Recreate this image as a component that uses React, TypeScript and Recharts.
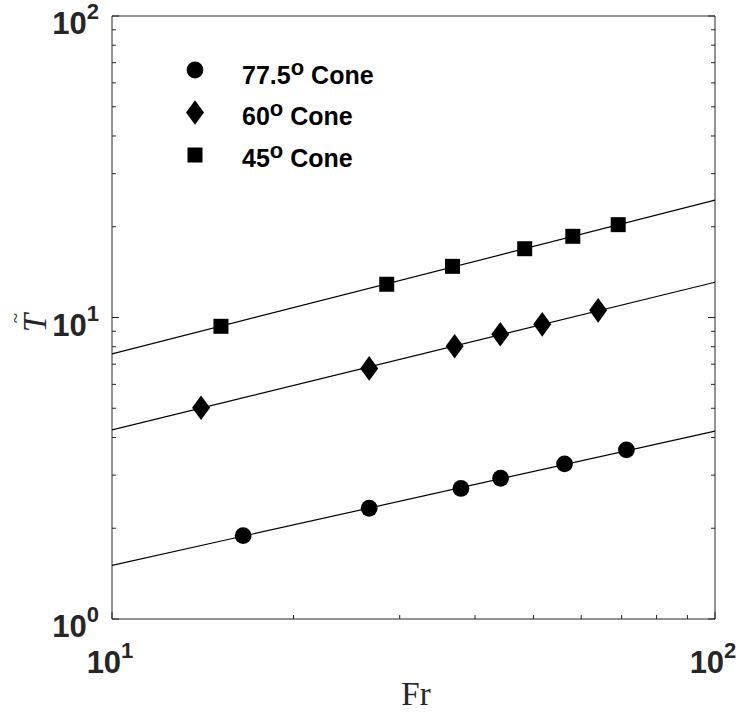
import React from "react";
import { ScatterChart, Scatter, XAxis, YAxis, Legend, Label } from "recharts";

const INK = "#262626";
const SANS = "'Liberation Sans', Arial, Helvetica, sans-serif";
const SERIF = "'Liberation Serif', 'Times New Roman', serif";

// measured points (Fr, T~)
const cone775 = [
    { x: 16.5, y: 1.89 },
    { x: 26.7, y: 2.33 },
    { x: 37.9, y: 2.71 },
    { x: 44.1, y: 2.93 },
    { x: 56.3, y: 3.27 },
    { x: 71.3, y: 3.64 },
];
const cone60 = [
    { x: 14.05, y: 5.02 },
    { x: 26.7, y: 6.78 },
    { x: 37.0, y: 8.03 },
    { x: 44.05, y: 8.8 },
    { x: 51.7, y: 9.49 },
    { x: 64.0, y: 10.56 },
];
const cone45 = [
    { x: 15.16, y: 9.35 },
    { x: 28.55, y: 12.89 },
    { x: 36.7, y: 14.78 },
    { x: 48.35, y: 16.91 },
    { x: 58.1, y: 18.59 },
    { x: 69.1, y: 20.32 },
];

// fit lines, end points read at Fr = 10 and Fr = 100
const fit775 = [
    { x: 10, y: 1.507 },
    { x: 100, y: 4.2 },
];
const fit60 = [
    { x: 10, y: 4.24 },
    { x: 100, y: 13.09 },
];
const fit45 = [
    { x: 10, y: 7.57 },
    { x: 100, y: 24.5 },
];

const xTicks = [10, 20, 30, 40, 50, 60, 70, 80, 90, 100];
const yTicks = [1, 2, 3, 4, 5, 6, 7, 8, 9, 10, 20, 30, 40, 50, 60, 70, 80, 90, 100];
const xLabels: Record<number, string> = { 10: "1", 100: "2" };
const yLabels: Record<number, string> = { 1: "0", 10: "1", 100: "2" };

const legendItems = [
    { name: "77.5", marker: "circle" },
    { name: "60", marker: "diamond" },
    { name: "45", marker: "square" },
];

const isMajor = (v: number) => Math.abs(Math.log10(v) - Math.round(Math.log10(v))) < 1e-9;

const Marker = ({ kind, cx, cy }: { kind: string; cx: number; cy: number }) => {
    if (kind === "circle") return <circle cx={cx} cy={cy} r={8.4} fill="#000" />;
    if (kind === "diamond")
        return <polygon points={`${cx},${cy - 12.3} ${cx + 9},${cy} ${cx},${cy + 12.3} ${cx - 9},${cy}`} fill="#000" />;
    return <rect x={cx - 7.5} y={cy - 7.5} width={15} height={15} fill="#000" />;
};

const shapeOf = (kind: string) => (p: any) => <Marker kind={kind} cx={p.cx} cy={p.cy} />;
const noShape = () => <g />;

const PowerLabel = ({ x, y, exp, anchor }: { x: number; y: number; exp: string; anchor: "end" | "middle" }) => (
    <text x={x} y={y} textAnchor={anchor} fill={INK} fontFamily={SANS} fontWeight="bold">
        <tspan fontSize={31}>10</tspan>
        <tspan fontSize={22} dy={-15}>
            {exp}
        </tspan>
    </text>
);

const tickLen = (v: number) => (isMajor(v) ? 7 : 4);

const BottomTick = (p: any) => {
    const v = p.payload.value;
    return (
        <g>
            <line x1={p.x} y1={p.y} x2={p.x} y2={p.y - tickLen(v)} stroke={INK} />
            {xLabels[v] && <PowerLabel x={p.x - 2} y={p.y + 54} exp={xLabels[v]} anchor="middle" />}
        </g>
    );
};
const TopTick = (p: any) => <line x1={p.x} y1={p.y} x2={p.x} y2={p.y + tickLen(p.payload.value)} stroke={INK} />;
const LeftTick = (p: any) => {
    const v = p.payload.value;
    return (
        <g>
            <line x1={p.x} y1={p.y} x2={p.x + tickLen(v)} y2={p.y} stroke={INK} />
            {yLabels[v] && <PowerLabel x={p.x - 13} y={p.y + 18} exp={yLabels[v]} anchor="end" />}
        </g>
    );
};
const RightTick = (p: any) => <line x1={p.x} y1={p.y} x2={p.x - tickLen(p.payload.value)} y2={p.y} stroke={INK} />;

const LegendBox = () => (
    <svg width={230} height={140} style={{ overflow: "visible" }}>
        {legendItems.map((it, i) => (
            <g key={it.name}>
                <Marker kind={it.marker} cx={25} cy={25 + i * 42.5} />
                <text x={72} y={38.5 + i * 41.7} fontFamily={SANS} fontWeight="bold" fill="#000">
                    <tspan fontSize={25}>{it.name}</tspan>
                    <tspan fontSize={22} dy={-9}>
                        o
                    </tspan>
                    <tspan fontSize={25} dy={9}>
                        {" Cone"}
                    </tspan>
                </text>
            </g>
        ))}
    </svg>
);

const axisLine = { stroke: INK, strokeWidth: 1 };

export default function App() {
    return (
        <div style={{ position: "absolute", left: 0, top: 0, width: 739, height: 715, background: "#fff" }}>
            <ScatterChart width={739} height={715} margin={{ top: 15, right: 23, bottom: 95, left: 111 }}>
                <XAxis
                    xAxisId="b"
                    dataKey="x"
                    type="number"
                    scale="log"
                    domain={[10, 100]}
                    allowDataOverflow
                    ticks={xTicks}
                    interval={0}
                    height={1}
                    tickSize={0}
                    tickMargin={0}
                    tickLine={false}
                    axisLine={axisLine}
                    tick={BottomTick}
                >
                    <Label
                        content={() => (
                            <text x={416} y={705} textAnchor="middle" fontFamily={SERIF} fontSize={33} fill={INK}>
                                Fr
                            </text>
                        )}
                    />
                </XAxis>
                <XAxis
                    xAxisId="t"
                    orientation="top"
                    type="number"
                    scale="log"
                    domain={[10, 100]}
                    allowDataOverflow
                    ticks={xTicks}
                    interval={0}
                    height={1}
                    tickSize={0}
                    tickMargin={0}
                    tickLine={false}
                    axisLine={axisLine}
                    tick={TopTick}
                />
                <YAxis
                    yAxisId="l"
                    dataKey="y"
                    type="number"
                    scale="log"
                    domain={[1, 100]}
                    allowDataOverflow
                    ticks={yTicks}
                    interval={0}
                    width={1}
                    tickSize={0}
                    tickMargin={0}
                    tickLine={false}
                    axisLine={axisLine}
                    tick={LeftTick}
                >
                    <Label
                        content={() => (
                            <g transform="translate(46, 323) rotate(-90)">
                                <text x={0} y={0} textAnchor="middle" fontFamily={SERIF} fontStyle="italic" fontSize={33} fill={INK}>
                                    T
                                </text>
                                <text x={5} y={-24} textAnchor="middle" fontFamily={SERIF} fontSize={19} fill={INK}>
                                    ~
                                </text>
                            </g>
                        )}
                    />
                </YAxis>
                <YAxis
                    yAxisId="r"
                    orientation="right"
                    type="number"
                    scale="log"
                    domain={[1, 100]}
                    allowDataOverflow
                    ticks={yTicks}
                    interval={0}
                    width={1}
                    tickSize={0}
                    tickMargin={0}
                    tickLine={false}
                    axisLine={axisLine}
                    tick={RightTick}
                />
                <Legend
                    layout="vertical"
                    align="center"
                    verticalAlign="middle"
                    wrapperStyle={{ left: 170, top: 45, width: 230, height: 140 }}
                    content={LegendBox}
                />
                <Scatter xAxisId="b" yAxisId="l" data={fit775} line={{ stroke: "#000", strokeWidth: 1.2 }} shape={noShape} legendType="none" isAnimationActive={false} />
                <Scatter xAxisId="b" yAxisId="l" data={fit60} line={{ stroke: "#000", strokeWidth: 1.2 }} shape={noShape} legendType="none" isAnimationActive={false} />
                <Scatter xAxisId="b" yAxisId="l" data={fit45} line={{ stroke: "#000", strokeWidth: 1.2 }} shape={noShape} legendType="none" isAnimationActive={false} />
                <Scatter xAxisId="b" yAxisId="l" name="77.5 Cone" data={cone775} shape={shapeOf("circle")} isAnimationActive={false} />
                <Scatter xAxisId="b" yAxisId="l" name="60 Cone" data={cone60} shape={shapeOf("diamond")} isAnimationActive={false} />
                <Scatter xAxisId="b" yAxisId="l" name="45 Cone" data={cone45} shape={shapeOf("square")} isAnimationActive={false} />
            </ScatterChart>
        </div>
    );
}
